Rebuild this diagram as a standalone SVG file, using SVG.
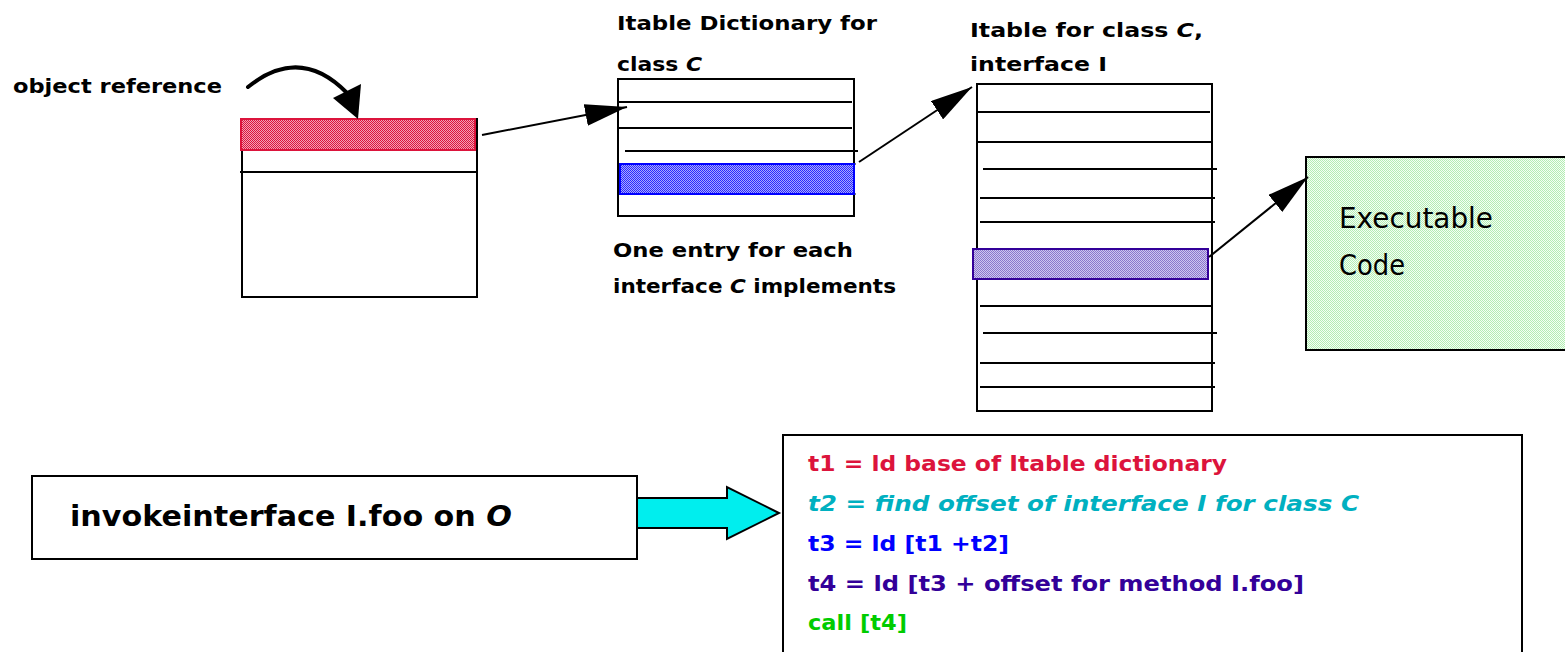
<svg xmlns="http://www.w3.org/2000/svg" width="1565" height="652" viewBox="0 0 1565 652">
  <style>
    .lbl { font-family: "DejaVu Sans", "Liberation Sans", sans-serif; font-weight: bold; fill: #000; }
    .box { fill: #fff; stroke: #000; stroke-width: 2; }
    .row { stroke: #000; stroke-width: 2; }
    .wire { stroke: #000; stroke-width: 2; fill: none; }
    .code { font-family: "DejaVu Sans", "Liberation Sans", sans-serif; font-weight: bold; font-size: 22px; }
    .plain { font-family: "DejaVu Sans", "Liberation Sans", sans-serif; font-size: 29px; fill: #000; }
  </style>
  <defs>
    <pattern id="dotPink" width="2" height="2" patternUnits="userSpaceOnUse">
      <rect width="2" height="2" fill="#f2a2b6"/>
      <rect width="1" height="1" fill="#dc143c"/>
      <rect x="1" y="1" width="1" height="1" fill="#dc143c"/>
    </pattern>
    <pattern id="dotBlue" width="2" height="2" patternUnits="userSpaceOnUse">
      <rect width="2" height="2" fill="#a8a8ff"/>
      <rect width="1" height="1" fill="#2a2aff"/>
      <rect x="1" y="1" width="1" height="1" fill="#2a2aff"/>
    </pattern>
    <pattern id="dotPurple" width="2" height="2" patternUnits="userSpaceOnUse">
      <rect width="2" height="2" fill="#cec6f0"/>
      <rect width="1" height="1" fill="#8a78cc"/>
      <rect x="1" y="1" width="1" height="1" fill="#8a78cc"/>
    </pattern>
    <pattern id="dotGreen" width="2" height="2" patternUnits="userSpaceOnUse">
      <rect width="2" height="2" fill="#f4fff4"/>
      <rect width="1" height="1" fill="#b4ecb4"/>
      <rect x="1" y="1" width="1" height="1" fill="#b4ecb4"/>
    </pattern>
    <marker id="head" viewBox="0 0 42 22" refX="42" refY="11" markerWidth="42" markerHeight="22" markerUnits="userSpaceOnUse" orient="auto">
      <path d="M0,0 L42,11 L0,22 Z" fill="#000"/>
    </marker>
  </defs>

  <!-- object with its reference slot -->
  <g id="object">
    <rect class="box" x="242" y="119" width="235" height="178"/>
    <rect x="241" y="119" width="234" height="31" fill="url(#dotPink)" stroke="#dc143c" stroke-width="2"/>
    <line class="row" x1="240" y1="172" x2="477" y2="172"/>
  </g>
  <g id="object-label">
    <text class="lbl" x="13" y="93" font-size="19" textLength="209" lengthAdjust="spacingAndGlyphs">object reference</text>
  </g>

  <!-- itable dictionary -->
  <g id="dictionary">
    <text class="lbl" x="617" y="30" font-size="20" textLength="260" lengthAdjust="spacingAndGlyphs">Itable Dictionary for</text>
    <text class="lbl" x="617" y="71" font-size="20" textLength="85" lengthAdjust="spacingAndGlyphs">class <tspan font-style="italic">C</tspan></text>
    <rect class="box" x="618" y="79" width="236" height="137"/>
    <line class="row" x1="618" y1="102" x2="852" y2="102"/>
    <line class="row" x1="618" y1="128" x2="852" y2="128"/>
    <line class="row" x1="625" y1="151" x2="858" y2="151"/>
    <line x1="620" y1="164" x2="856" y2="164" stroke="#000" stroke-width="1"/>
    <line x1="620" y1="194" x2="856" y2="194" stroke="#000" stroke-width="1"/>
    <rect x="620" y="164" width="234" height="30" fill="url(#dotBlue)" stroke="#0000ff" stroke-width="2"/>
    <text class="lbl" x="613" y="257" font-size="20" textLength="240" lengthAdjust="spacingAndGlyphs">One entry for each</text>
    <text class="lbl" x="613" y="293" font-size="20" textLength="283" lengthAdjust="spacingAndGlyphs">interface <tspan font-style="italic">C</tspan> implements</text>
  </g>

  <!-- itable for class C, interface I -->
  <g id="itable">
    <text class="lbl" x="970" y="37" font-size="20" textLength="233" lengthAdjust="spacingAndGlyphs">Itable for class <tspan font-style="italic">C</tspan>,</text>
    <text class="lbl" x="970" y="71" font-size="20" textLength="137" lengthAdjust="spacingAndGlyphs">interface I</text>
    <rect class="box" x="977" y="84" width="235" height="327"/>
    <line class="row" x1="977" y1="112" x2="1210" y2="112"/>
    <line class="row" x1="978" y1="142" x2="1212" y2="142"/>
    <line class="row" x1="983" y1="169" x2="1217" y2="169"/>
    <line class="row" x1="980" y1="198" x2="1215" y2="198"/>
    <line class="row" x1="980" y1="222" x2="1215" y2="222"/>
    <rect x="973" y="249" width="235" height="30" fill="url(#dotPurple)" stroke="#330099" stroke-width="2"/>
    <line class="row" x1="980" y1="306" x2="1212" y2="306"/>
    <line class="row" x1="983" y1="333" x2="1217" y2="333"/>
    <line class="row" x1="980" y1="363" x2="1215" y2="363"/>
    <line class="row" x1="980" y1="387" x2="1215" y2="387"/>
  </g>

  <!-- executable code -->
  <g id="executable">
    <rect x="1306" y="157" width="270" height="193" fill="url(#dotGreen)" stroke="#000" stroke-width="2"/>
    <text class="plain" x="1339" y="228" textLength="154" lengthAdjust="spacingAndGlyphs">Executable</text>
    <text class="plain" x="1339" y="275" textLength="66" lengthAdjust="spacingAndGlyphs">Code</text>
  </g>

  <!-- bytecode instruction -->
  <g id="invoke">
    <rect class="box" x="32" y="476" width="605" height="83"/>
    <text class="lbl" x="70" y="526" font-size="28" textLength="442" lengthAdjust="spacingAndGlyphs">invokeinterface I.foo on <tspan font-style="italic">O</tspan></text>
  </g>

  <!-- lowered instruction sequence -->
  <g id="lowered">
    <rect class="box" x="783" y="435" width="739" height="240"/>
    <text class="code" x="808" y="471" fill="#dc143c" textLength="419" lengthAdjust="spacingAndGlyphs">t1 = ld base of Itable dictionary</text>
    <text class="code" x="808" y="511" fill="#00b0c0" font-style="italic" textLength="551" lengthAdjust="spacingAndGlyphs">t2 = find offset of interface I for class C</text>
    <text class="code" x="808" y="551" fill="#0000ff" textLength="201" lengthAdjust="spacingAndGlyphs">t3 = ld [t1 +t2]</text>
    <text class="code" x="808" y="591" fill="#330099" textLength="496" lengthAdjust="spacingAndGlyphs">t4 = ld [t3 + offset for method I.foo]</text>
    <text class="code" x="808" y="630" fill="#00cc00" textLength="99" lengthAdjust="spacingAndGlyphs">call [t4]</text>
  </g>

  <!-- connectors -->
  <g id="connectors">
    <path d="M248,87 Q300,45 347,93" stroke="#000" stroke-width="4" fill="none" stroke-linecap="round"/>
    <polygon points="333,98 361,84 358,119" fill="#000"/>
    <line class="wire" x1="482" y1="135" x2="627" y2="107" marker-end="url(#head)"/>
    <line class="wire" x1="859" y1="162" x2="972" y2="87" marker-end="url(#head)"/>
    <line class="wire" x1="1209" y1="257" x2="1308" y2="177" marker-end="url(#head)"/>
    <polygon points="637,498 727,498 727,487 779,513 727,539 727,528 637,528" fill="#00eeee" stroke="#000" stroke-width="2" stroke-linejoin="miter"/>
  </g>
</svg>
